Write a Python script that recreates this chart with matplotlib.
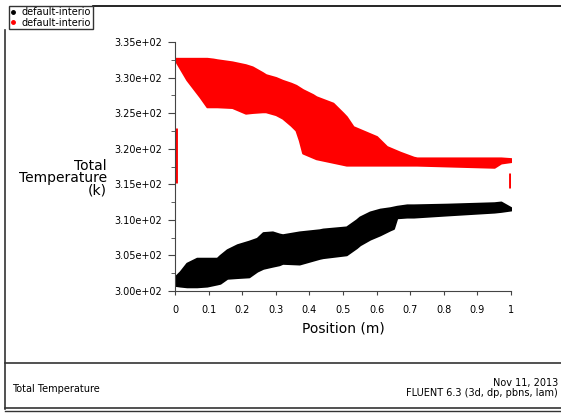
import matplotlib
matplotlib.use("Agg")
import matplotlib.pyplot as plt
from matplotlib.lines import Line2D

plt.rcParams['font.family'] = ['DejaVu Sans']

# red band (upper / lower envelope), K
red_x = [0, 0.035, 0.074, 0.095, 0.113, 0.125, 0.17, 0.21, 0.23, 0.26, 0.27, 0.30,
         0.32, 0.345, 0.36, 0.37, 0.38, 0.41, 0.42, 0.47, 0.50, 0.51, 0.53, 0.60,
         0.63, 0.67, 0.71, 0.72, 0.95, 0.97, 1.0]
red_hi = [332.7, 332.7, 332.7, 332.7, 332.6, 332.5, 332.2, 331.8, 331.5, 330.7, 330.4, 330.0,
          329.6, 329.2, 328.9, 328.6, 328.3, 327.6, 327.3, 326.4, 325.0, 324.5, 323.1, 321.7,
          320.3, 319.5, 318.8, 318.7, 318.7, 318.7, 318.6]
red_lo = [332.5, 329.7, 327.3, 325.9, 325.9, 325.9, 325.8, 325.0, 325.1, 325.2, 325.2, 324.8,
          324.3, 323.3, 322.6, 321.2, 319.4, 318.8, 318.6, 318.1, 317.8, 317.7, 317.7, 317.7,
          317.7, 317.7, 317.7, 317.7, 317.4, 318.0, 318.2]

# black band
blk_x = [0, 0.015, 0.035, 0.065, 0.095, 0.125, 0.134, 0.155, 0.185, 0.22, 0.244, 0.262,
         0.29, 0.31, 0.32, 0.37, 0.43, 0.44, 0.51, 0.54, 0.55, 0.58, 0.61, 0.64,
         0.65, 0.66, 0.69, 0.71, 0.81, 0.95, 0.97, 1.0]
blk_hi = [302.0, 302.7, 303.9, 304.6, 304.6, 304.6, 305.0, 305.8, 306.5, 307.0, 307.4, 308.2,
          308.3, 308.0, 307.9, 308.3, 308.6, 308.7, 309.0, 310.0, 310.4, 311.1, 311.5, 311.7,
          311.8, 311.9, 312.1, 312.1, 312.2, 312.4, 312.5, 311.7]
blk_lo = [300.8, 300.7, 300.6, 300.6, 300.7, 301.0, 301.1, 301.8, 301.9, 302.0, 302.8, 303.2,
          303.5, 303.7, 303.9, 303.8, 304.6, 304.7, 305.1, 306.1, 306.5, 307.3, 307.9, 308.6,
          308.8, 310.3, 310.4, 310.4, 310.7, 311.1, 311.2, 311.4]

# red wall points at x = 0 and x = 1
end_x = [0, 1]
end_lo = [315.2, 314.5]
end_hi = [322.9, 316.6]

yticks = [300, 305, 310, 315, 320, 325, 330, 335]
ylabels = ['3.00e+02', '3.05e+02', '3.10e+02', '3.15e+02', '3.20e+02', '3.25e+02', '3.30e+02', '3.35e+02']
xticks = [0, 0.1, 0.2, 0.3, 0.4, 0.5, 0.6, 0.7, 0.8, 0.9, 1]
xlabels = ['0', '0.1', '0.2', '0.3', '0.4', '0.5', '0.6', '0.7', '0.8', '0.9', '1']

W, H = 561, 415
fig = plt.figure(figsize=(W / 100, H / 100), dpi=100)
ax = fig.add_axes([175 / W, 1 - 291 / H, 336 / W, 249 / H])

ax.fill_between(red_x, red_lo, red_hi, color='#ff0000', lw=1.5, edgecolor='#ff0000')
ax.fill_between(blk_x, blk_lo, blk_hi, color='black', lw=1.5, edgecolor='black')
ax.vlines(end_x, end_lo, end_hi, color='#ff0000', lw=3.5)

ax.set_xlim(0, 1)
ax.set_ylim(300, 335)
ax.set_yticks(yticks)
ax.set_yticklabels(ylabels, fontsize=7)
ax.set_yticks([302.5, 307.5, 312.5, 317.5, 322.5, 327.5, 332.5], minor=True)
ax.set_xticks(xticks)
ax.set_xticklabels(xlabels, fontsize=7)
ax.tick_params(axis='y', which='major', length=5, color='#444444', pad=4)
ax.tick_params(axis='y', which='minor', length=3, color='#444444')
ax.tick_params(axis='x', which='major', length=3, color='#444444', pad=7)
for s in ['top', 'right']:
    ax.spines[s].set_visible(False)
for s in ['left', 'bottom']:
    ax.spines[s].set_color('#444444')
ax.set_xlabel('Position (m)', fontsize=10, labelpad=5)

fig.text(107 / W, 1 - 178 / H, 'Total\nTemperature\n(k)', ha='right', va='center',
         fontsize=10, linespacing=0.85, multialignment='right')

# legend
handles = [Line2D([], [], ls='none', marker='.', color='black', markersize=5),
           Line2D([], [], ls='none', marker='.', color='#ff0000', markersize=5)]
fig.legend(handles, ['default-interio', 'default-interio'], loc='upper left',
           bbox_to_anchor=(4 / W, 1 - 1 / H), fontsize=7, labelspacing=0.05,
           handlelength=0.6, handletextpad=0.6, borderpad=0.15, frameon=True,
           fancybox=False, edgecolor='#333333', framealpha=1)

# frame lines
fig.add_artist(Line2D([93 / W, 1], [1 - 6 / H] * 2, color='black', lw=1.2))
fig.add_artist(Line2D([5 / W] * 2, [1 - 30 / H, 1 - 409 / H], color='#333333', lw=1.2))
fig.add_artist(Line2D([5 / W, 1], [1 - 363 / H] * 2, color='#333333', lw=1.2))
fig.add_artist(Line2D([5 / W, 1], [1 - 408 / H] * 2, color='#333333', lw=1.2))
fig.add_artist(Line2D([5 / W, 1], [1 - 411 / H] * 2, color='#333333', lw=1.0))

fig.text(12 / W, 1 - 389 / H, 'Total Temperature', fontsize=7, va='center')
fig.text(558 / W, 1 - 383 / H, 'Nov 11, 2013', fontsize=7, va='center', ha='right')
fig.text(558 / W, 1 - 393 / H, 'FLUENT 6.3 (3d, dp, pbns, lam)', fontsize=7, va='center', ha='right')

fig.savefig('out.png', dpi=100)
